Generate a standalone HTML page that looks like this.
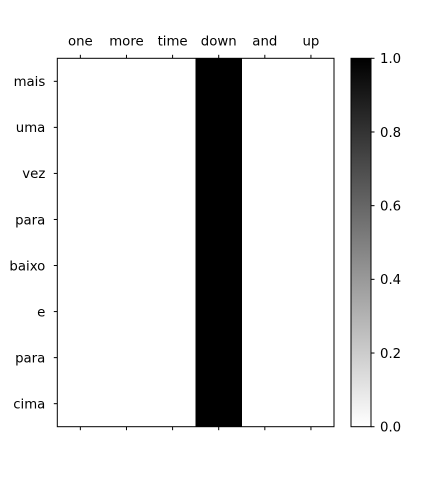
<!DOCTYPE html>
<html><head><meta charset="utf-8"><style>
body{margin:0;background:#fff}
text{font-family:"DejaVu Sans","Liberation Sans",sans-serif;font-size:13.3px;fill:#000}
</style></head><body>
<svg id="chart" width="448" height="480" xmlns="http://www.w3.org/2000/svg">
<defs><linearGradient id="cbg" x1="0" y1="1" x2="0" y2="0"><stop offset="0" stop-color="#fff"/><stop offset="1" stop-color="#000"/></linearGradient></defs>
<g id="cells" shape-rendering="crispEdges"></g>
<g id="axes"></g>
<rect x="351" y="58.3" width="20" height="368.4" fill="url(#cbg)" stroke="#000" stroke-width="1"/>
<g id="cbticks"></g>
</svg>
<script>
const xLabels=["one","more","time","down","and","up"];
const yLabels=["mais","uma","vez","para","baixo","e","para","cima"];
const values=[
[0,0,0,1,0,0],[0,0,0,1,0,0],[0,0,0,1,0,0],[0,0,0,1,0,0],
[0,0,0,1,0,0],[0,0,0,1,0,0],[0,0,0,1,0,0],[0,0,0,1,0,0]];
const cbTicks=[0.0,0.2,0.4,0.6,0.8,1.0];
const NS="http://www.w3.org/2000/svg";
const L=57.3,R=334,T=58.3,B=426.7;
const cw=(R-L)/xLabels.length, rh=(B-T)/yLabels.length;
const xPos=i=>L+i*cw, yPos=j=>T+j*rh;
function mk(tag,attrs,parent){const e=document.createElementNS(NS,tag);for(const k in attrs)e.setAttribute(k,attrs[k]);parent.appendChild(e);return e;}
const cells=document.getElementById('cells'),axes=document.getElementById('axes'),cbt=document.getElementById('cbticks');
values.forEach((row,j)=>row.forEach((v,i)=>{const g=Math.round(255*(1-v));
const r=mk('rect',{x:xPos(i),y:yPos(j),width:cw+0.5,height:rh+0.5,fill:`rgb(${g},${g},${g})`},cells);

}));
mk('rect',{x:L,y:T,width:R-L,height:B-T,fill:'none',stroke:'#000','stroke-width':1},axes);
xLabels.forEach((s,i)=>{const cx=xPos(i)+cw/2;
mk('line',{x1:cx,y1:T,x2:cx,y2:T-3.5,stroke:'#000'},axes);
mk('line',{x1:cx,y1:B,x2:cx,y2:B+3.5,stroke:'#000'},axes);
const t=mk('text',{x:cx,y:T-13,'text-anchor':'middle'},axes);t.textContent=s;

});
yLabels.forEach((s,j)=>{const cy=yPos(j)+rh/2;
mk('line',{x1:L,y1:cy,x2:L-3.5,y2:cy,stroke:'#000'},axes);
const t=mk('text',{x:L-12,y:cy+4.8,'text-anchor':'end'},axes);t.textContent=s;

});
cbTicks.forEach(v=>{const y=B-v*(B-T);
mk('line',{x1:371,y1:y,x2:374.5,y2:y,stroke:'#000'},cbt);
const t=mk('text',{x:380,y:y+4.8},cbt);t.textContent=v.toFixed(1);

});
</script>
</body></html>
